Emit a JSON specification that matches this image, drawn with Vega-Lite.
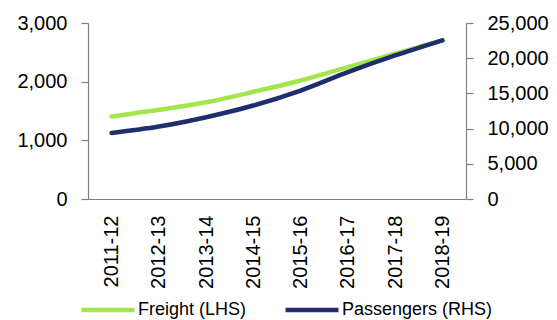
{
  "$schema": "https://vega.github.io/schema/vega-lite/v6.json",
  "autosize": {"type": "none"},
  "width": 378,
  "height": 176,
  "padding": {"left": 88, "top": 23, "right": 91, "bottom": 121},
  "background": "white",
  "config": {
    "view": {"stroke": null},
    "font": "Liberation Sans",
    "axis": {
      "grid": false,
      "domainColor": "#7f7f7f",
      "tickColor": "#7f7f7f",
      "domainWidth": 1.2,
      "tickWidth": 1.2,
      "labelColor": "#000000",
      "labelFont": "Liberation Sans",
      "labelFontSize": 20,
      "titleFontSize": 0
    }
  },
  "data": {
    "values": [
      {"period": "2011-12", "series": "Freight (LHS)", "value": 1406},
      {"period": "2012-13", "series": "Freight (LHS)", "value": 1520},
      {"period": "2013-14", "series": "Freight (LHS)", "value": 1650},
      {"period": "2014-15", "series": "Freight (LHS)", "value": 1827},
      {"period": "2015-16", "series": "Freight (LHS)", "value": 2020},
      {"period": "2016-17", "series": "Freight (LHS)", "value": 2248},
      {"period": "2017-18", "series": "Freight (LHS)", "value": 2476},
      {"period": "2018-19", "series": "Freight (LHS)", "value": 2703},
      {"period": "2011-12", "series": "Passengers (RHS)", "value": 9390},
      {"period": "2012-13", "series": "Passengers (RHS)", "value": 10290},
      {"period": "2013-14", "series": "Passengers (RHS)", "value": 11620},
      {"period": "2014-15", "series": "Passengers (RHS)", "value": 13280},
      {"period": "2015-16", "series": "Passengers (RHS)", "value": 15410},
      {"period": "2016-17", "series": "Passengers (RHS)", "value": 18020},
      {"period": "2017-18", "series": "Passengers (RHS)", "value": 20390},
      {"period": "2018-19", "series": "Passengers (RHS)", "value": 22530}
    ]
  },
  "encoding": {
    "x": {
      "field": "period",
      "type": "ordinal",
      "title": null,
      "scale": {"type": "point", "padding": 0.5},
      "axis": {
        "labelAngle": -90,
        "ticks": false,
        "labelPadding": 16,
        "labelBaseline": "middle",
        "labelAlign": "right"
      }
    },
    "color": {
      "field": "series",
      "type": "nominal",
      "scale": {
        "domain": ["Freight (LHS)", "Passengers (RHS)"],
        "range": ["#a2e64c", "#1f2d6d"]
      },
      "legend": {
        "title": null,
        "orient": "none",
        "direction": "horizontal",
        "legendX": -9,
        "legendY": 258,
        "symbolType": "stroke",
        "symbolSize": 2800,
        "symbolStrokeWidth": 4.5,
        "symbolOffset": 0,
        "labelFont": "Liberation Sans",
        "labelFontSize": 18,
        "labelColor": "#000000",
        "labelOffset": 1,
        "columnPadding": 29,
        "labelLimit": 300
      }
    }
  },
  "layer": [
    {
      "transform": [{"filter": "datum.series === 'Freight (LHS)'"}],
      "mark": {"type": "line", "strokeWidth": 4.5, "interpolate": "monotone", "strokeCap": "round"},
      "encoding": {
        "y": {
          "field": "value",
          "type": "quantitative",
          "title": null,
          "scale": {"domain": [0, 3000]},
          "axis": {
            "orient": "left",
            "values": [0, 1000, 2000, 3000],
            "format": ",.0f",
            "tickSize": 7,
            "labelPadding": 14
          }
        }
      }
    },
    {
      "transform": [{"filter": "datum.series === 'Passengers (RHS)'"}],
      "mark": {"type": "line", "strokeWidth": 4.5, "interpolate": "monotone", "strokeCap": "round"},
      "encoding": {
        "y": {
          "field": "value",
          "type": "quantitative",
          "title": null,
          "scale": {"domain": [0, 25000]},
          "axis": {
            "orient": "right",
            "values": [0, 5000, 10000, 15000, 20000, 25000],
            "format": ",.0f",
            "tickSize": 7,
            "labelPadding": 14
          }
        }
      }
    }
  ],
  "resolve": {"scale": {"y": "independent"}}
}
